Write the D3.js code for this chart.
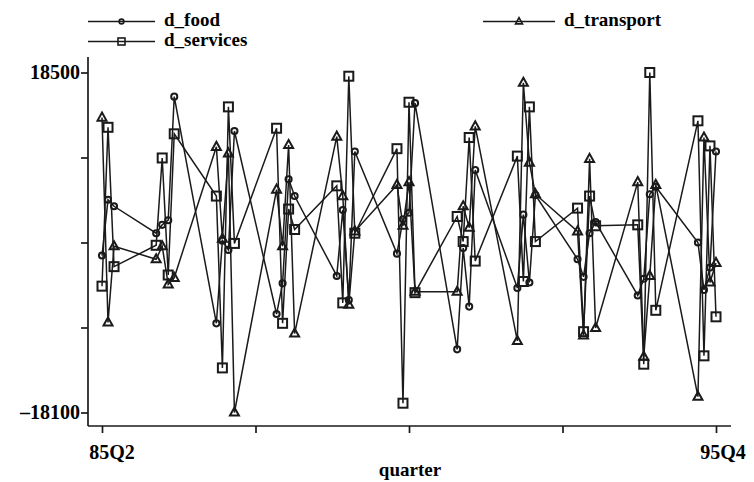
<!DOCTYPE html>
<html>
<head>
<meta charset="utf-8">
<script src="https://cdn.jsdelivr.net/npm/d3@7"></script>
<style>
  body { margin: 0; background: #fff; }
  svg { display: block; }
  text { font-family: "Liberation Serif", "DejaVu Serif", serif; font-weight: bold; fill: #000; }
</style>
</head>
<body>
<div id="chart"></div>
<script>
// quarters in data order, 85Q2 .. 95Q4
var quarters = ['85Q2','85Q3','85Q4',
	'86Q1','86Q2','86Q3','86Q4','87Q1','87Q2','87Q3','87Q4',
	'88Q1','88Q2','88Q3','88Q4','89Q1','89Q2','89Q3','89Q4',
	'90Q1','90Q2','90Q3','90Q4','91Q1','91Q2','91Q3','91Q4',
	'92Q1','92Q2','92Q3','92Q4','93Q1','93Q2','93Q3','93Q4',
	'94Q1','94Q2','94Q3','94Q4','95Q1','95Q2','95Q3','95Q4'];

var d_food = [-1200, 4800, 4100,
	1200, 2100, 2600, 15900, -8500, 400, -600, 12200,
	-7500, -4200, 7000, 5200, -3400, 3700, -6000, 10000,
	-1000, 2700, 3400, 15200, -11300, -400, -6700, 8000,
	-4700, 3200, -4100, 5300, -1600, -3500, 1200, 2400,
	-5500, -3700, 5400, 6200, 200, -4900, -2500, 10000];

var d_services = [-4500, 12600, -2400,
	-100, 9300, -3300, 11900, 5200, -13300, 14800, 100,
	12500, -8500, 3800, 1600, 6300, -6300, 18100, 1200,
	10300, -17100, 15300, -5200, 3000, 300, 11500, -1800,
	9500, -4000, 14800, 300, 3900, -9400, 5200, 2000,
	2100, -12900, 18500, -7100, 13300, -12000, 10600, -7800];

var d_transport = [13650, -8400, -200,
	-1600, -200, -4300, -3600, 10500, 600, 9800, -18100,
	5900, -200, 10700, -9600, 11600, 5200, -6500, 1400,
	6400, 2000, 6700, -5100, -5100, 4100, 1800, 12700,
	-10400, 17400, 8800, 5400, 1400, -9800, 9200, -9000,
	6700, -12100, -3400, 6400, -16400, 11500, -4100, -2000];

var yTickLabels = ['18500', '\u201318100'];

function qnum(q){
	return 1900 + (+q.slice(0, 2)) + (+q.slice(3)) / 10;
}

var width = 754, height = 482;
var ink = '#1a1a1a';
var svg = d3.select('#chart').append('svg')
	.attr('width', width).attr('height', height);

var x = d3.scaleLinear()
	.domain([qnum(quarters[0]), qnum(quarters[quarters.length - 1])])
	.range([102, 716]);
var y = d3.scaleLinear()
	.domain([-18100, 18500])
	.range([412.5, 72.5]);

var xTicks = d3.range(5).map(function(i){
	return x.domain()[0] + i * (x.domain()[1] - x.domain()[0]) / 4;
});
var yTicks = d3.range(5).map(function(i){
	return y.domain()[0] + i * (y.domain()[1] - y.domain()[0]) / 4;
});

// axes
var xAxis = d3.axisBottom(x).tickValues(xTicks).tickSize(7).tickFormat('');
var yAxis = d3.axisLeft(y).tickValues(yTicks).tickSize(7).tickFormat('');

var gx = svg.append('g').attr('transform', 'translate(0,426)').call(xAxis);
gx.select('.domain').attr('d', 'M88,0H731');
var gy = svg.append('g').attr('transform', 'translate(88,0)').call(yAxis);
gy.select('.domain').attr('d', 'M0,57V426');
svg.selectAll('.domain, .tick line').attr('stroke', ink).attr('stroke-width', 1.7);

svg.append('text').attr('x', 112).attr('y', 459).attr('text-anchor', 'middle')
	.style('font-size', '20px').text(quarters[0]);
svg.append('text').attr('x', 723).attr('y', 459).attr('text-anchor', 'middle')
	.style('font-size', '20px').text(quarters[quarters.length - 1]);
svg.append('text').attr('x', 410).attr('y', 476).attr('text-anchor', 'middle')
	.style('font-size', '19px').text('quarter');

svg.append('text').attr('x', 80).attr('y', y(18500) + 6).attr('text-anchor', 'end')
	.style('font-size', '20px').text(yTickLabels[0]);
svg.append('text').attr('x', 80).attr('y', y(-18100) + 6).attr('text-anchor', 'end')
	.style('font-size', '20px').text(yTickLabels[1]);

// hollow markers
function drawMarker(sel, kind, s, sw){
	var m;
	if(kind == 'circle'){
		m = sel.append('circle').attr('r', s * 0.34);
	}
	else if(kind == 'square'){
		m = sel.append('rect').attr('x', -s / 2).attr('y', -s / 2).attr('width', s).attr('height', s);
	}
	else{
		var h = s * 0.9;
		m = sel.append('path').attr('d', 'M0,' + (-h * 0.62) + 'L' + (s / 2) + ',' + (h * 0.38) + 'L' + (-s / 2) + ',' + (h * 0.38) + 'Z');
	}
	m.attr('fill', 'none').attr('stroke', ink).attr('stroke-width', sw);
}

var series = [
	{name: 'd_food', values: d_food, marker: 'circle'},
	{name: 'd_services', values: d_services, marker: 'square'},
	{name: 'd_transport', values: d_transport, marker: 'triangle'}
];

var line = d3.line()
	.x(function(d){ return x(d.x); })
	.y(function(d){ return y(d.y); });

series.forEach(function(s){
	var pts = quarters.map(function(q, i){ return {x: qnum(q), y: s.values[i]}; });
	svg.append('path')
		.datum(pts)
		.attr('d', line)
		.attr('fill', 'none')
		.attr('stroke', ink)
		.attr('stroke-width', 1.5);
	var m = svg.append('g').selectAll('g')
		.data(pts)
		.enter().append('g')
		.attr('transform', function(d){
			return 'translate(' + [x(d.x), y(d.y)] + ')';
		});
	drawMarker(m, s.marker, 9, 2);
});

// legend
var legend = [
	{s: series[0], x1: 88, x2: 155, y: 21.5},
	{s: series[1], x1: 88, x2: 155, y: 41.5},
	{s: series[2], x1: 483, x2: 555, y: 21.5}
];
legend.forEach(function(l){
	var g = svg.append('g');
	g.append('line').attr('x1', l.x1).attr('x2', l.x2).attr('y1', l.y).attr('y2', l.y)
		.attr('stroke', ink).attr('stroke-width', 1.5);
	var mk = g.append('g')
		.attr('transform', 'translate(' + [(l.x1 + l.x2) / 2, l.y] + ')');
	drawMarker(mk, l.s.marker, 7, 1.6);
	g.append('text').attr('x', l.x2 + 9).attr('y', l.y + 4)
		.style('font-size', '19px').text(l.s.name);
});
</script>
</body>
</html>
